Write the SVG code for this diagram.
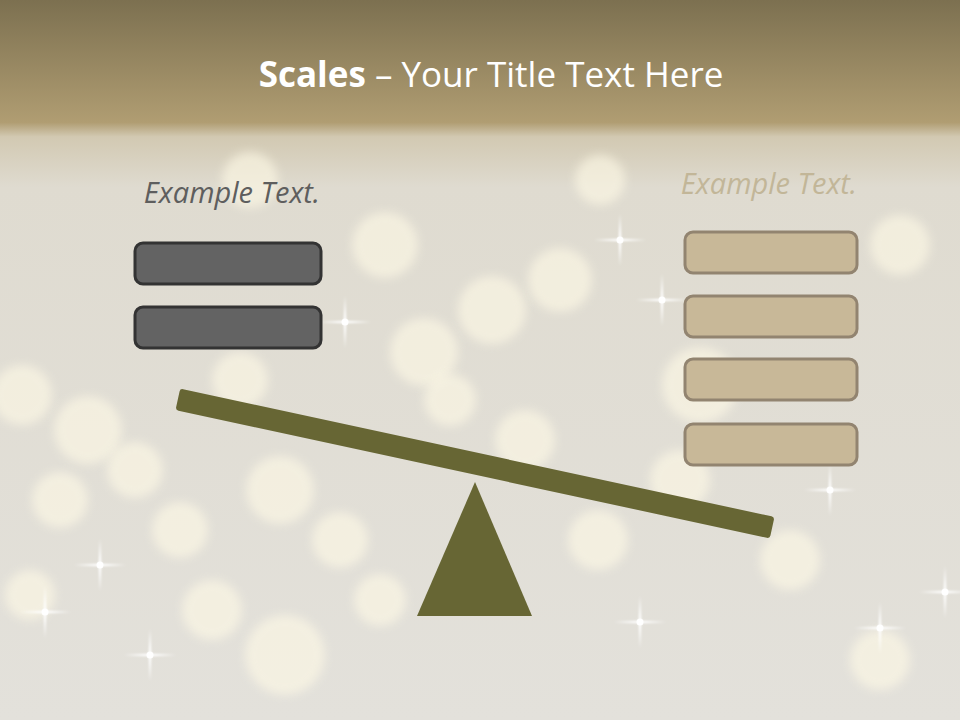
<svg xmlns="http://www.w3.org/2000/svg" width="960" height="720" viewBox="0 0 960 720">
<defs>
<linearGradient id="bg" x1="0" y1="0" x2="0" y2="1">
<stop offset="0" stop-color="#7c7050"/>
<stop offset="0.17" stop-color="#b09d72"/>
<stop offset="0.19" stop-color="#d2c9b2"/>
<stop offset="0.26" stop-color="#dfdbd0"/>
<stop offset="1" stop-color="#e3e1db"/>
</linearGradient>
<filter id="blur" x="-50%" y="-50%" width="200%" height="200%"><feGaussianBlur stdDeviation="5"/></filter>
<filter id="glow" x="-50%" y="-50%" width="200%" height="200%"><feGaussianBlur stdDeviation="1.2"/></filter>
<g id="star">
<path d="M0,-26 L1.3,-1.3 L26,0 L1.3,1.3 L0,26 L-1.3,1.3 L-26,0 L-1.3,-1.3 Z" fill="#ffffff" filter="url(#glow)"/>
<circle r="3.5" fill="#ffffff"/>
</g>
<style>
.bk{fill:#fffae6;opacity:0.6;filter:url(#blur)}
.dark{fill:#636363;stroke:#333333;stroke-width:3}
.tan{fill:#c8b898;stroke:#928470;stroke-width:3}
.lbl{font-family:"Open Sans","Liberation Sans",sans-serif;font-style:italic;font-size:29px}
.olive{fill:#676634}
</style>
</defs>
<rect width="960" height="720" fill="url(#bg)"/>
<g id="bokeh">
<circle class="bk" cx="492" cy="310" r="34"/>
<circle class="bk" cx="424" cy="352" r="34"/>
<circle class="bk" cx="385" cy="245" r="33"/>
<circle class="bk" cx="560" cy="280" r="32"/>
<circle class="bk" cx="280" cy="490" r="34"/>
<circle class="bk" cx="212" cy="610" r="30"/>
<circle class="bk" cx="285" cy="655" r="40"/>
<circle class="bk" cx="598" cy="540" r="30"/>
<circle class="bk" cx="525" cy="440" r="30"/>
<circle class="bk" cx="88" cy="430" r="34"/>
<circle class="bk" cx="22" cy="395" r="30"/>
<circle class="bk" cx="135" cy="470" r="28"/>
<circle class="bk" cx="700" cy="385" r="38"/>
<circle class="bk" cx="680" cy="480" r="30"/>
<circle class="bk" cx="900" cy="245" r="30"/>
<circle class="bk" cx="30" cy="595" r="25"/>
<circle class="bk" cx="880" cy="660" r="30"/>
<circle class="bk" cx="340" cy="540" r="28"/>
<circle class="bk" cx="450" cy="400" r="26"/>
<circle class="bk" cx="600" cy="180" r="25"/>
<circle class="bk" cx="250" cy="180" r="28"/>
<circle class="bk" cx="790" cy="560" r="30"/>
<circle class="bk" cx="180" cy="530" r="28"/>
<circle class="bk" cx="60" cy="500" r="28"/>
<circle class="bk" cx="380" cy="600" r="26"/>
<circle class="bk" cx="240" cy="380" r="28"/>
</g>
<g id="sparkles">
<use href="#star" x="620" y="240"/>
<use href="#star" x="662" y="300"/>
<use href="#star" x="345" y="322"/>
<use href="#star" x="100" y="565"/>
<use href="#star" x="150" y="655"/>
<use href="#star" x="880" y="628"/>
<use href="#star" x="945" y="592"/>
<use href="#star" x="830" y="490"/>
<use href="#star" x="45" y="612"/>
<use href="#star" x="640" y="622"/>
</g>
<g id="title">
<text x="491" y="87" text-anchor="middle" font-family="'Open Sans','Liberation Sans',sans-serif" font-size="35" fill="#ffffff"><tspan font-weight="bold">Scales</tspan> – Your Title Text Here</text>
</g>
<g id="left-label"><text class="lbl" x="232" y="203" text-anchor="middle" fill="#5e5e5e">Example Text.</text></g>
<g id="right-label"><text class="lbl" x="769" y="194" text-anchor="middle" fill="#c2b698">Example Text.</text></g>
<g id="left-box-1"><rect class="dark" x="135" y="243" width="186" height="41" rx="8"/></g>
<g id="left-box-2"><rect class="dark" x="135" y="307" width="186" height="41" rx="8"/></g>
<g id="right-box-1"><rect class="tan" x="685" y="232" width="172" height="41" rx="8"/></g>
<g id="right-box-2"><rect class="tan" x="685" y="296" width="172" height="41" rx="8"/></g>
<g id="right-box-3"><rect class="tan" x="685" y="359" width="172" height="41" rx="8"/></g>
<g id="right-box-4"><rect class="tan" x="685" y="424" width="172" height="41" rx="8"/></g>
<g id="fulcrum"><polygon class="olive" points="475,482 532,616 417,616"/></g>
<g id="beam"><rect class="olive" x="-304" y="-11" width="608" height="22" rx="3" transform="translate(475,463.5) rotate(12.2)"/></g>
</svg>
